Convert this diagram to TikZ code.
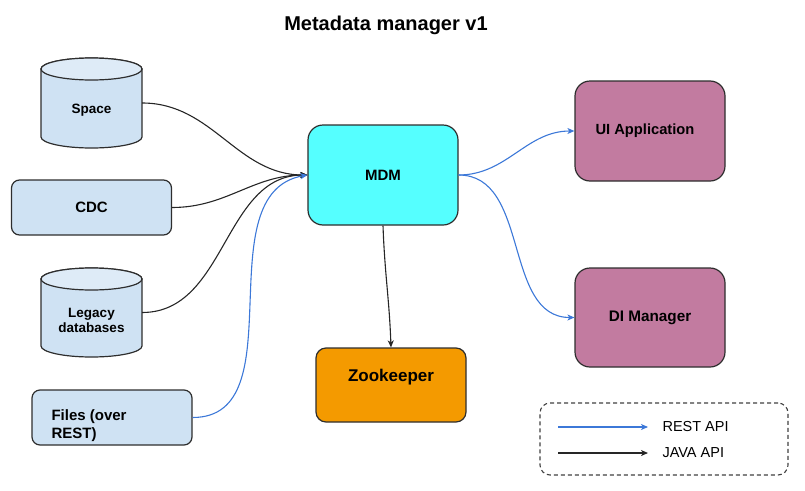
\documentclass[tikz,border=0pt]{standalone}
\usepackage{fontspec}
\setmainfont{Liberation Sans}
\usetikzlibrary{arrows.meta,calc}
\definecolor{dbblue}{HTML}{CFE2F3}
\definecolor{dbtop}{HTML}{DEEBF7}
\definecolor{mdmcyan}{HTML}{55FFFF}
\definecolor{zooorange}{HTML}{F49A00}
\definecolor{appmag}{HTML}{C27BA0}
\definecolor{restblue}{HTML}{3C78D8}
\definecolor{edgegray}{HTML}{2E2E2E}
\newcommand{\mycyl}[4]{% cx, x radius, ytop-center, ybottom-center
  \filldraw[fill=dbblue,draw=edgegray,line width=1.2pt]
    (#1-#2,#3) -- (#1-#2,#4) arc[start angle=180,end angle=360,x radius=#2,y radius=11]
    -- (#1+#2,#3) arc[start angle=0,end angle=180,x radius=#2,y radius=11] -- cycle;
  \filldraw[fill=dbtop,draw=edgegray,line width=1.2pt] (#1,#3) ellipse[x radius=#2,y radius=11];
}
\begin{document}
\begin{tikzpicture}[x=1pt,y=1pt,
  box/.style={draw=edgegray,line width=1.2pt,inner sep=0pt},
  lbl/.style={font=\bfseries\fontsize{13.5}{15}\selectfont,align=center},
  javaedge/.style={draw=black!85,line width=1.1pt,-{Stealth[length=7pt,width=6pt,inset=2pt]}},
  restedge/.style={draw=restblue,line width=1.1pt,-{Stealth[length=7pt,width=6pt,inset=2pt]}}
]
\useasboundingbox (0,0) rectangle (805,-490);

% title
\node[font=\bfseries\fontsize{20}{24}\selectfont,anchor=base] (title) at (386,-30) {Metadata manager v1};

% cylinders
\mycyl{91.5}{50.5}{-69}{-137}
\node[inner sep=0pt,minimum width=101pt,minimum height=90pt] (space) at (91.5,-103) {};
\node[lbl] (spacelbl) at (91.5,-110) {Space};

\mycyl{91.5}{50.5}{-279}{-346}
\node[inner sep=0pt,minimum width=101pt,minimum height=89pt] (legacy) at (91.5,-312.5) {};
\node[lbl] (legacylbl) at (91.5,-320) {Legacy\\databases};

% boxes
\node[box,rounded corners=8pt,fill=dbblue,minimum width=160pt,minimum height=55pt,
      font=\bfseries\fontsize{15}{18}\selectfont] (cdc) at (91.5,-207.5) {CDC};
\node[box,rounded corners=8pt,fill=dbblue,minimum width=160pt,minimum height=55pt] (files) at (112,-417.5) {};
\node[font=\bfseries\fontsize{15}{18}\selectfont,align=left,anchor=west] (fileslbl) at (48,-426) {Files (over\\REST)};

\node[box,rounded corners=15pt,fill=mdmcyan,minimum width=150pt,minimum height=100pt,
      font=\bfseries\fontsize{15}{18}\selectfont] (mdm) at (383,-175) {MDM};
\node[box,rounded corners=10pt,fill=zooorange,minimum width=150pt,minimum height=74pt] (zoo) at (391,-385) {};
\node[font=\bfseries\fontsize{17}{20}\selectfont] (zoolbl) at (391,-377) {Zookeeper};

\node[box,rounded corners=15pt,fill=appmag,minimum width=150pt,minimum height=100pt] (ui) at (650,-131) {};
\node[font=\bfseries\fontsize{14.7}{18}\selectfont] (uilbl) at (645,-131) {UI Application};
\node[box,rounded corners=15pt,fill=appmag,minimum width=150pt,minimum height=99pt,
      font=\bfseries\fontsize{15.3}{18}\selectfont] (di) at (650,-317.5) {DI Manager};

% connectors
\draw[javaedge] (space.east) to[out=0,in=180] (mdm.west);
\draw[javaedge] (cdc.east) to[out=0,in=180] (mdm.west);
\draw[javaedge] (legacy.east) to[out=0,in=180] (mdm.west);
\draw[restedge] (files.east) to[out=0,in=190] (mdm.west);
\draw[restedge] (mdm.east) to[out=0,in=180] (ui.west);
\draw[restedge] (mdm.east) to[out=0,in=180] (di.west);
\draw[javaedge] (mdm.south) to[out=-88,in=92] (zoo.north);

% legend
\node[draw=black!75,line width=1.1pt,dash pattern=on 4pt off 3pt,rounded corners=10pt,
      minimum width=248pt,minimum height=72pt] (legend) at (664,-439) {};
\coordinate (r1) at (558,-427);
\coordinate (r2) at (648,-427);
\coordinate (j1) at (558,-453);
\coordinate (j2) at (648,-453);
\draw[restedge] (r1) -- (r2);
\draw[javaedge] (j1) -- (j2);
\node[anchor=west,font=\fontsize{14.5}{17}\selectfont] (restlbl) at (659,-427) {REST API};
\node[anchor=west,font=\fontsize{14.5}{17}\selectfont] (javalbl) at (659,-453) {JAVA API};
\end{tikzpicture}
\end{document}
